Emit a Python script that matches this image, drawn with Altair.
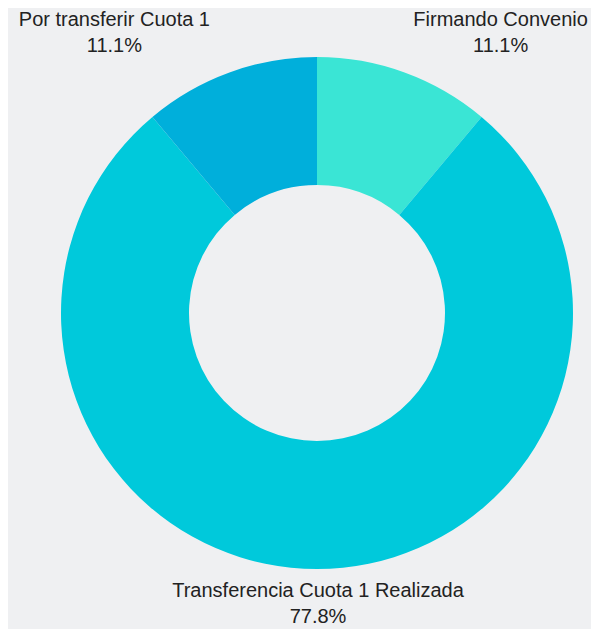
import altair as alt
import pandas as pd

categories = ["Firmando Convenio", "Transferencia Cuota 1 Realizada", "Por transferir Cuota 1"]
values = [1, 7, 1]
pct_labels = ["11.1%", "77.8%", "11.1%"]
colors = ["#3ae5d5", "#00c9db", "#00afdb"]
order = [0, 1, 2]

df = pd.DataFrame({"cat": categories, "val": values, "pct": pct_labels, "ord": order})
df["label"] = df["cat"] + "\n" + df["pct"]

CX, CY = 309, 305

base = alt.Chart(df).transform_window(
    cum="sum(val)", sort=[alt.SortField("ord")], frame=[None, 0]
).transform_joinaggregate(
    total="sum(val)"
).transform_calculate(
    a0="2*PI*(datum.cum - datum.val)/datum.total",
    a1="2*PI*datum.cum/datum.total",
    amid="2*PI*(datum.cum - datum.val/2)/datum.total",
)

arcs = base.mark_arc(outerRadius=256, innerRadius=128).encode(
    theta=alt.Theta("a0:Q", scale=None),
    theta2="a1:Q",
    color=alt.Color("cat:N", scale=alt.Scale(domain=categories, range=colors), legend=None),
    x=alt.value(CX),
    y=alt.value(CY),
)

def label_layer(cat, dx, dy):
    return base.transform_filter(alt.datum.cat == cat).mark_text(
        radius=300, lineBreak="\n", fontSize=20, font="Liberation Sans",
        color="#222222", align="center", baseline="middle", dx=dx, dy=dy, lineHeight=26,
    ).encode(
        theta=alt.Theta("amid:Q", scale=None),
        text="label:N", x=alt.value(CX), y=alt.value(CY),
    )

labels = [
    label_layer("Firmando Convenio", 81, -11),
    label_layer("Transferencia Cuota 1 Realizada", 1, -22),
    label_layer("Por transferir Cuota 1", -100, -11),
]

chart = alt.layer(arcs, *labels).properties(
    width=583, height=621, background="#eff0f2", padding=0,
    autosize=alt.AutoSizeParams(type="none"),
).configure_view(stroke=None)

chart.save("out.html", embed_options={"renderer": "svg", "actions": False})
